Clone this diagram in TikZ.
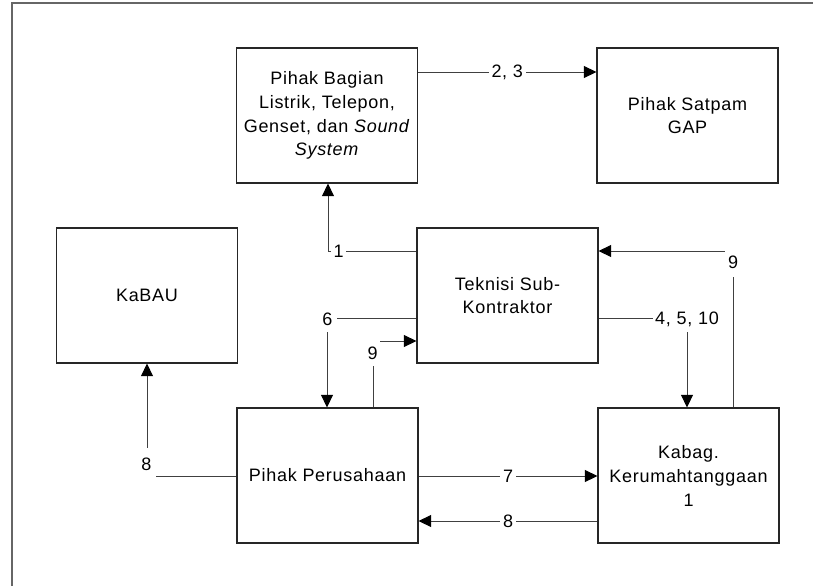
\documentclass[tikz,border=0pt]{standalone}
\usepackage{fontspec}
\setmainfont{Liberation Sans}[LetterSpace=4]
\usetikzlibrary{arrows.meta}
\begin{document}
\begin{tikzpicture}[x=0.75pt,y=-0.75pt,
  box/.style={draw=black!85, line width=0.8pt, minimum width=135.75pt,
    minimum height=101.25pt, inner sep=0pt, align=center,
    font=\fontsize{13.5}{17.8}\selectfont},
  link/.style={draw=black!75, line width=0.75pt},
  arr/.style={link, -{Triangle[length=9.5pt,width=9pt,color=black,fill=black]}},
  lbl/.style={fill=white, inner xsep=2pt, inner ysep=1pt,
    font=\fontsize{13.5}{16}\selectfont}]
\useasboundingbox (0,0) rectangle (813,586);

% page frame
\draw[black!60, line width=1.5pt] (12,586) -- (12,3) -- (813,3);

% units
\node[box] (pb) at (327,115.5) {Pihak Bagian\\Listrik, Telepon,\\Genset, dan \textit{Sound}\\\textit{System}};
\node[box] (sp) at (687.5,115.5) {Pihak Satpam\\GAP};
\node[box] (kb) at (147,295.5) {KaBAU};
\node[box] (tk) at (507.5,295.5) {Teknisi Sub-\\Kontraktor};
\node[box] (pp) at (327.5,475.5) {Pihak Perusahaan};
\node[box, font=\fontsize{13.5}{18}\selectfont] (kg) at (688.5,475.5) {Kabag.\\Kerumahtanggaan\\1};

% bends and levels of the flows
\coordinate (m23) at (507,72);
\coordinate (k1) at (328,251);
\coordinate (k6) at (327,318);
\coordinate (k9a) at (373,341);
\coordinate (k4) at (687,318);
\coordinate (k9b) at (733,251);
\coordinate (k8) at (147,476);
\coordinate (m7) at (507,476);
\coordinate (m8) at (507,521);

% flows
\draw[arr] (pb.east |- m23) -- node[lbl] (l23) {2, 3} (sp.west |- m23);
\draw[arr] (tk.west |- k1) -- (k1) -- (k1 |- pb.south);
\draw[arr] (tk.west |- k6) -- (k6) -- (k6 |- pp.north);
\draw[arr] (k9a |- pp.north) -- (k9a) -- (k9a -| tk.west);
\draw[arr] (tk.east |- k4) -- (k4) -- (k4 |- kg.north);
\draw[arr] (k9b |- kg.north) -- (k9b) -- (k9b -| tk.east);
\draw[arr] (pp.west |- k8) -- (k8) -- (k8 |- kb.south);
\draw[arr] (pp.east |- m7) -- node[lbl] (l7) {7} (kg.west |- m7);
\draw[arr] (kg.west |- m8) -- node[lbl] (l8b) {8} (pp.east |- m8);

% flow numbers at the bends
\node[lbl] (l1) at (338.5,251) {1};
\node[lbl, minimum width=13.5pt, minimum height=19.5pt] (l6) at (327.5,319) {6};
\node[lbl, minimum height=19.5pt] (l4510) at (687,319) {4, 5, 10};
\node[lbl, minimum width=12pt, minimum height=22.5pt] (l9b) at (733,262) {9};
\node[lbl, inner xsep=1pt, minimum width=11.5pt, minimum height=19.5pt] (l9a) at (372.5,353) {9};
\node[lbl, minimum width=14pt, minimum height=24pt] (l8a) at (146.5,464) {8};
\end{tikzpicture}
\end{document}
